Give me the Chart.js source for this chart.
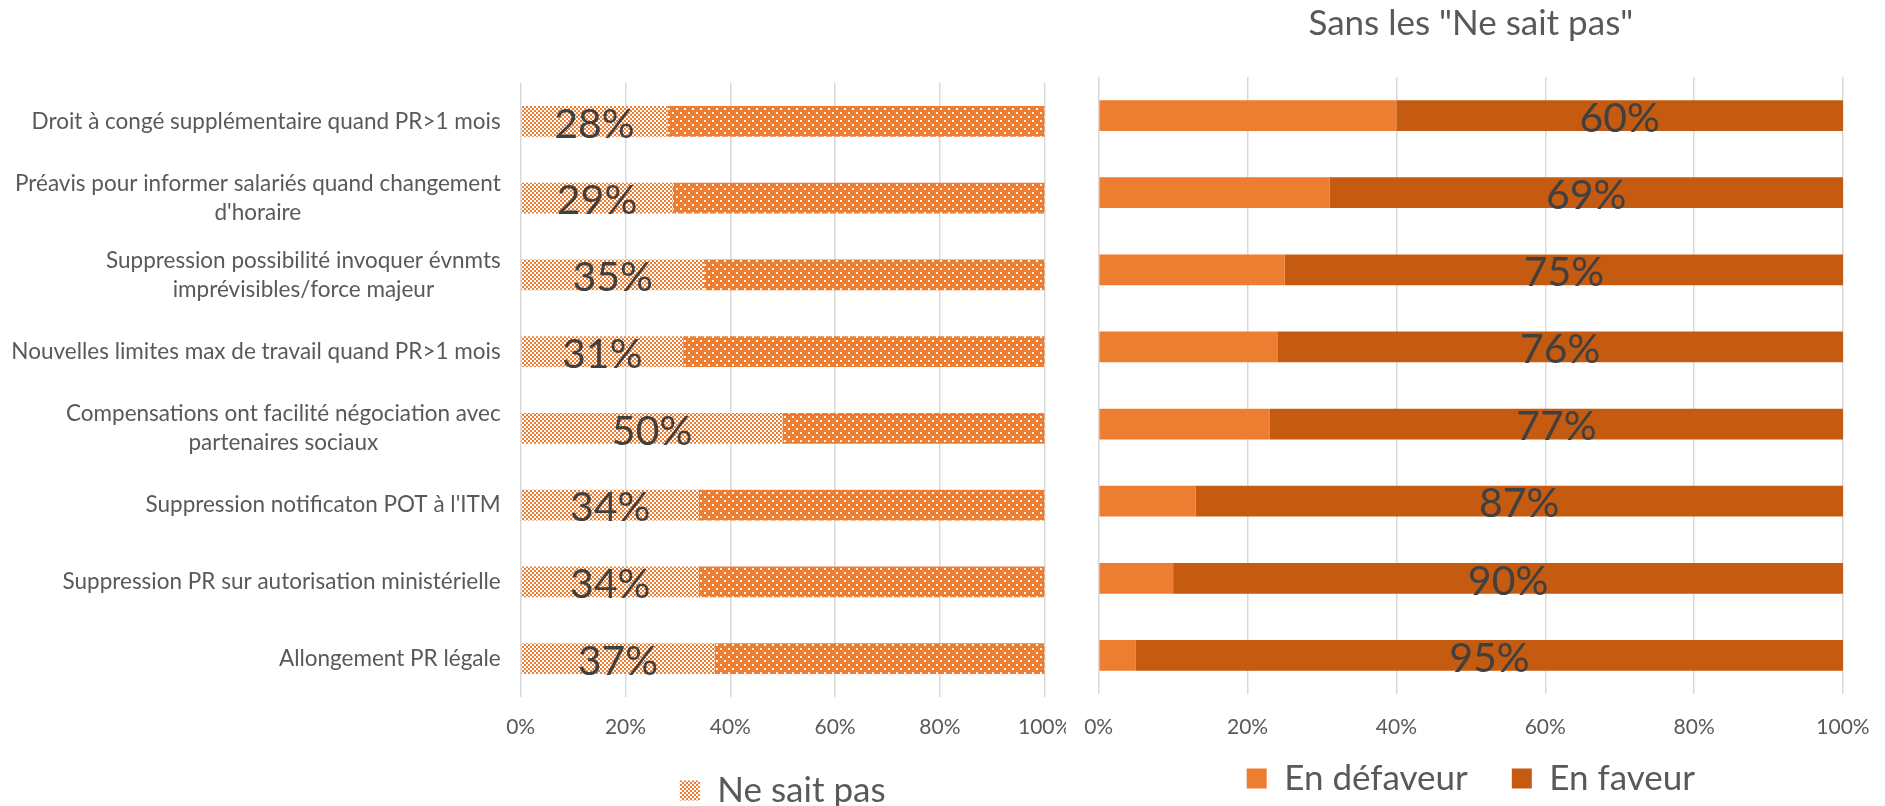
<!DOCTYPE html>
<html>
<head>
<meta charset="utf-8">
<script src="https://cdn.jsdelivr.net/npm/chart.js@4/dist/chart.umd.min.js"></script>
<style>
  html, body { margin: 0; padding: 0; background: #fff; overflow: hidden; width: 1885px; height: 806px; }
  #left { position: absolute; left: 0; top: 0; }
  #right { position: absolute; left: 1070px; top: 0; }
</style>
</head>
<body>
<canvas id="left" width="1066" height="818"></canvas>
<canvas id="right" width="815" height="806"></canvas>
<script>
// Survey items (top to bottom)
const categories = [
  "Droit à congé supplémentaire quand PR>1 mois",
  ["Préavis pour informer salariés quand changement", "d'horaire"],
  ["Suppression possibilité invoquer évnmts", "imprévisibles/force majeur"],
  "Nouvelles limites max de travail quand PR>1 mois",
  ["Compensations ont facilité négociation avec", "partenaires sociaux"],
  "Suppression notificaton POT à l'ITM",
  "Suppression PR sur autorisation ministérielle",
  "Allongement PR légale"
];

// Left panel: share of "don't know" answers and the rest
const neSaitPas = [28, 29, 35, 31, 50, 34, 34, 37];
const avisExprime = [72, 71, 65, 69, 50, 66, 66, 63];

// Right panel: opinions once "don't know" answers are removed
const enDefaveur = [40, 31, 25, 24, 23, 13, 10, 5];
const enFaveur = [60, 69, 75, 76, 77, 87, 90, 95];

const percentTicks = [0, 20, 40, 60, 80, 100];

const ORANGE = '#ED7D31';
const DARK_ORANGE = '#C55A11';
const TEXT = '#595959';
const LABEL = '#404040';
const FONT = 'Lato';

function checkerPattern(color) {
  const c = document.createElement('canvas');
  c.width = 4; c.height = 4;
  const g = c.getContext('2d');
  g.fillStyle = '#fff'; g.fillRect(0, 0, 4, 4);
  g.fillStyle = color;
  g.fillRect(0, 0, 2, 2); g.fillRect(2, 2, 2, 2);
  return g.createPattern(c, 'repeat');
}

function dotPattern(color) {
  const c = document.createElement('canvas');
  c.width = 8; c.height = 8;
  const g = c.getContext('2d');
  g.fillStyle = color; g.fillRect(0, 0, 8, 8);
  g.fillStyle = '#fff';
  g.fillRect(0, 0, 2, 2); g.fillRect(4, 4, 2, 2);
  return g.createPattern(c, 'repeat');
}

// Percentage written in the middle of one dataset's segments
const segmentLabels = {
  id: 'segmentLabels',
  afterDatasetsDraw(chart, args, opts) {
    const ctx = chart.ctx;
    const meta = chart.getDatasetMeta(opts.dataset);
    const values = chart.data.datasets[opts.dataset].data;
    ctx.save();
    ctx.font = opts.size + 'px ' + FONT;
    ctx.fillStyle = LABEL;
    ctx.textAlign = 'center';
    ctx.textBaseline = 'middle';
    meta.data.forEach((bar, i) => {
      const x = (bar.x + bar.base) / 2;
      ctx.fillText(values[i] + '%', x, bar.y + (opts.dy || 0));
    });
    ctx.restore();
  }
};

// Category names: block right-aligned against the axis, lines centred within the block
const categoryLabels = {
  id: 'categoryLabels',
  afterDraw(chart, args, opts) {
    const ctx = chart.ctx;
    const scale = chart.scales.y;
    ctx.save();
    ctx.font = opts.size + 'px ' + FONT;
    ctx.fillStyle = TEXT;
    ctx.textAlign = 'center';
    ctx.textBaseline = 'middle';
    chart.data.labels.forEach((label, i) => {
      const lines = Array.isArray(label) ? label : [label];
      const widest = Math.max(...lines.map(l => ctx.measureText(l).width));
      const cx = scale.right - opts.gap - widest / 2;
      const y0 = scale.getPixelForValue(i) - (lines.length - 1) * opts.lineHeight / 2;
      lines.forEach((l, k) => ctx.fillText(l, cx, y0 + k * opts.lineHeight));
    });
    ctx.restore();
  }
};

function percentAxis(height, pad, mirror) {
  return {
    stacked: true,
    min: 0,
    max: 100,
    grid: { color: '#d9d9d9', lineWidth: 1.5, drawTicks: false },
    border: { display: false },
    afterBuildTicks(s) { s.ticks = percentTicks.map(v => ({ value: v })); },
    ticks: {
      padding: pad,
      mirror: !!mirror,
      color: TEXT,
      font: { family: FONT, size: 21 },
      maxRotation: 0,
      callback: v => v + '%'
    },
    afterFit(s) { s.height = height; s.paddingLeft = 0; s.paddingRight = 0; }
  };
}

const legendFont = { family: FONT, size: 35 };

new Chart(document.getElementById('left'), {
  type: 'bar',
  data: {
    labels: categories,
    datasets: [
      { label: 'Ne sait pas', data: neSaitPas, backgroundColor: checkerPattern(ORANGE),
        borderWidth: 0, barPercentage: 0.4, categoryPercentage: 1 },
      { label: 'Avis exprimé', data: avisExprime, backgroundColor: dotPattern(ORANGE),
        borderWidth: 0, barPercentage: 0.4, categoryPercentage: 1 }
    ]
  },
  options: {
    indexAxis: 'y',
    responsive: false,
    animation: false,
    layout: { padding: { left: 0, right: 21.3, top: 83, bottom: 0 } },
    scales: {
      x: percentAxis(66, 18),
      y: {
        stacked: true,
        grid: { display: false },
        border: { display: false },
        ticks: { display: false },
        afterFit(s) { s.width = 520.7; }
      }
    },
    plugins: {
      legend: {
        position: 'bottom',
        fullSize: false,
        labels: {
          font: legendFont, color: TEXT, boxWidth: 20, boxHeight: 20, padding: 10,
          filter: item => item.datasetIndex === 0
        }
      },
      tooltip: { enabled: false },
      segmentLabels: { dataset: 0, size: 41, dy: 3 },
      categoryLabels: { size: 22.5, gap: 20, lineHeight: 29 }
    }
  },
  plugins: [segmentLabels, categoryLabels]
});

new Chart(document.getElementById('right'), {
  type: 'bar',
  data: {
    labels: categories,
    datasets: [
      { label: 'En défaveur', data: enDefaveur, backgroundColor: ORANGE,
        borderWidth: 0, barPercentage: 0.4, categoryPercentage: 1 },
      { label: 'En faveur', data: enFaveur, backgroundColor: DARK_ORANGE,
        borderWidth: 0, barPercentage: 0.4, categoryPercentage: 1 }
    ]
  },
  options: {
    indexAxis: 'y',
    responsive: false,
    animation: false,
    layout: { padding: { left: 28.7, right: 42, top: 0, bottom: 0 } },
    scales: {
      // labels are mirrored so they are not clipped by the short axis box above the legend
      x: percentAxis(23, -46, true),
      y: { stacked: true, display: false }
    },
    plugins: {
      title: {
        display: true,
        text: 'Sans les "Ne sait pas"',
        color: TEXT,
        font: { family: FONT, size: 35, weight: 'normal' },
        padding: { top: 3, bottom: 32 }
      },
      legend: {
        position: 'bottom',
        labels: { font: legendFont, color: TEXT, boxWidth: 20, boxHeight: 20, padding: 44 }
      },
      tooltip: { enabled: false },
      segmentLabels: { dataset: 1, size: 41, dy: 3 }
    }
  },
  plugins: [segmentLabels]
});
</script>
</body>
</html>
